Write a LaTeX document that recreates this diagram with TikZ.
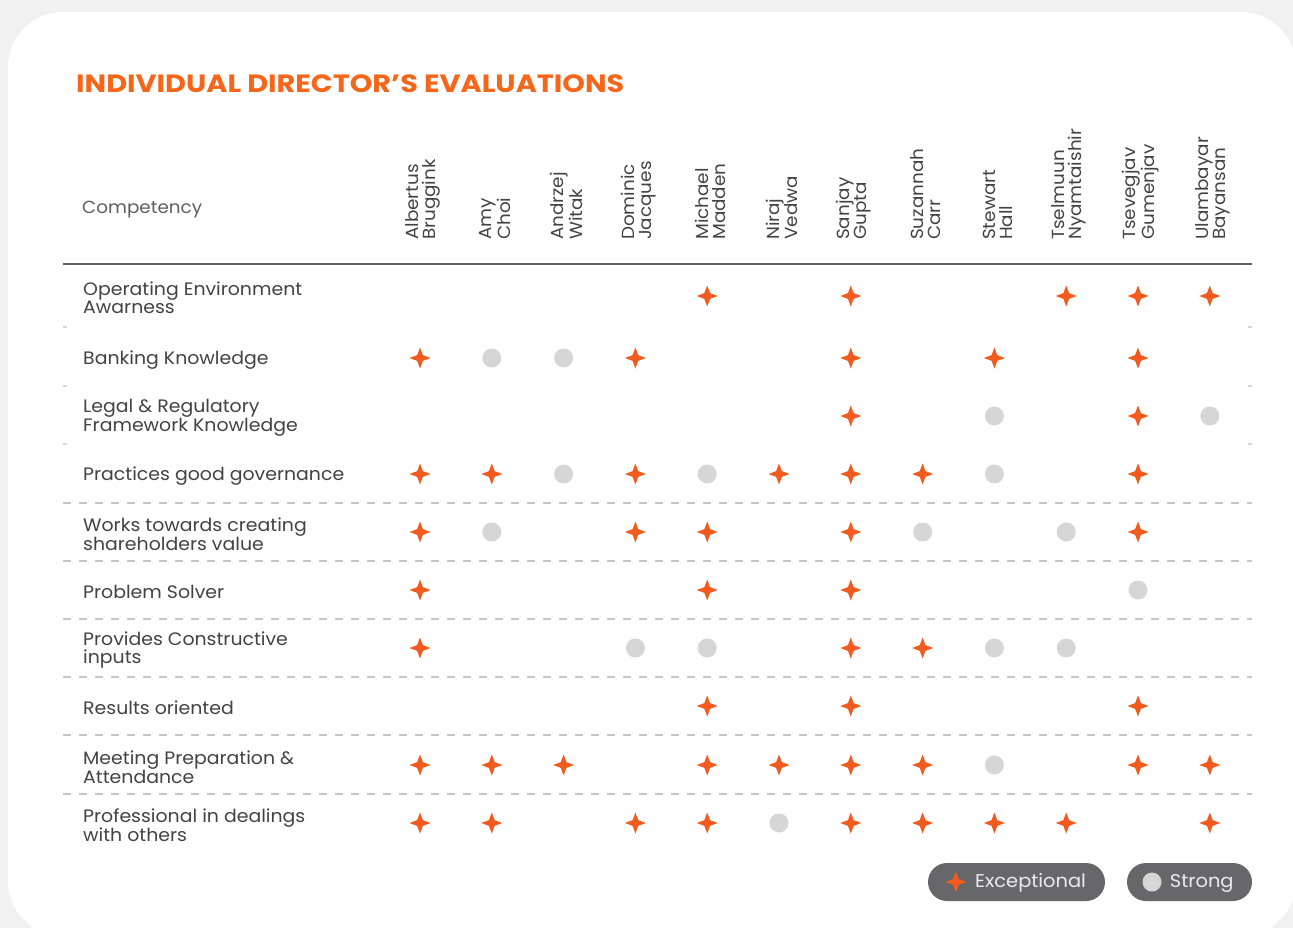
\documentclass[tikz,border=0pt]{standalone}
\usepackage{fontspec}
\setmainfont{Poppins}[FakeStretch=1.05]
\newfontfamily\titlefont{Poppins}[FakeStretch=1.15]
\usetikzlibrary{shapes.geometric,positioning}
\definecolor{evalorange}{HTML}{F35B1E}
\definecolor{titleorange}{HTML}{F5661B}
\definecolor{labelgray}{HTML}{434345}
\definecolor{dotgray}{HTML}{D6D6D6}
\definecolor{pillgray}{HTML}{67676A}
\definecolor{pagegray}{HTML}{F1F1F1}
\definecolor{sepgray}{HTML}{C6C6C6}
\tikzstyle{exmark}=[star,star points=4,star point ratio=2.6,fill=evalorange,minimum size=21pt,inner sep=0pt]
\tikzstyle{stmark}=[circle,fill=dotgray,minimum size=19pt,inner sep=0pt]
\tikzstyle{rowlabel}=[anchor=west,align=left,text=labelgray,font=\fontsize{18}{18}\selectfont,inner sep=0pt,yshift=-2pt]
\tikzstyle{namelabel}=[anchor=west,rotate=90,align=left,text=labelgray,font=\fontsize{17.5}{17}\selectfont,inner sep=0pt]
\tikzstyle{rowsep}=[draw=sepgray,line width=1.5pt,dash pattern=on 7.5pt off 8.5pt]
\tikzstyle{pill}=[rounded corners=19pt,fill=pillgray,minimum height=38pt,inner sep=0pt]
\tikzstyle{legendtext}=[text=white!92!black,font=\fontsize{18.5}{18}\selectfont,inner sep=0pt]

\begin{document}
\begin{tikzpicture}[x=1pt,y=-1pt]

  \useasboundingbox[fill=pagegray] (0,0) rectangle (1293,928);
  % card
  \fill[white,rounded corners=55pt] (8,12) rectangle (1296,936);

  \def\xa{420}   % first column
  \def\dx{71.8}  % column step
  \def\xl{63}    % table left
  \def\xr{1252}  % table right

% Title
  \node[anchor=west,text=titleorange,font=\titlefont\fontsize{25}{28}\selectfont\bfseries,inner sep=0pt] (title) at (76,84) {INDIVIDUAL DIRECTOR’S EVALUATIONS};
  \node[rowlabel,font=\fontsize{17.5}{18}\selectfont,text=labelgray!85] (competency) at (82,208) {Competency};

%header
  \foreach \c/\first/\second in {1/Albertus/Bruggink, 2/Amy/Choi, 3/Andrzej/Witak, 4/Dominic/Jacques,
      5/Michael/Madden, 6/Niraj/Vedwa, 7/Sanjay/Gupta, 8/Suzannah/Carr, 9/Stewart/Hall,
      10/Tselmuun/Nyamtaishir, 11/Tsevegjav/Gumenjav, 12/Ulambayar/Bayansan}
    \node[namelabel] (h\c) at (\xa+\c*\dx-\dx+3, 240) {\first\\\second};

  \draw[line width=1.8pt,draw=labelgray!85] (\xl,264) -- (\xr,264);

%rows
  \foreach \r/\y/\label/\marks in {
      1/296/{Operating Environment\\Awarness}/{5/exmark,7/exmark,10/exmark,11/exmark,12/exmark},
      2/358/{Banking Knowledge}/{1/exmark,2/stmark,3/stmark,4/exmark,7/exmark,9/exmark,11/exmark},
      3/416/{Legal \& Regulatory\\Framework Knowledge}/{7/exmark,9/stmark,11/exmark,12/stmark},
      4/474/{Practices good governance}/{1/exmark,2/exmark,3/stmark,4/exmark,5/stmark,6/exmark,7/exmark,8/exmark,9/stmark,11/exmark},
      5/532/{Works towards creating\\shareholders value}/{1/exmark,2/stmark,4/exmark,5/exmark,7/exmark,8/stmark,10/stmark,11/exmark},
      6/590/{Problem Solver}/{1/exmark,5/exmark,7/exmark,11/stmark},
      7/648/{Provides Constructive\\inputs}/{1/exmark,4/stmark,5/stmark,7/exmark,8/exmark,9/stmark,10/stmark},
      8/706/{Results oriented}/{5/exmark,7/exmark,11/exmark},
      9/765/{Meeting Preparation \&\\Attendance}/{1/exmark,2/exmark,3/exmark,5/exmark,6/exmark,7/exmark,8/exmark,9/stmark,11/exmark,12/exmark},
      10/823/{Professional in dealings\\with others}/{1/exmark,2/exmark,4/exmark,5/exmark,6/stmark,7/exmark,8/exmark,9/exmark,10/exmark,12/exmark}}
  {
    \node[rowlabel] (row\r) at (83,\y) {\label};
    \foreach \c/\t in \marks
      \node[\t] (m-\r-\c) at (\xa+\c*\dx-\dx, \y) {};
  }

%separators
  \foreach \y in {327,386,444}{
    \draw[draw=sepgray!70,line width=1.2pt] (\xl,\y) -- ++(4,0);
    \draw[draw=sepgray!70,line width=1.2pt] (\xr,\y) -- ++(-4,0);
  }
  \foreach \y in {503,561,619,677,735,794}
    \draw[rowsep] (\xl,\y) -- (\xr,\y);

% Legend
  \node[pill,minimum width=177pt] (exlegend) at (1016.5,882) {};
  \node[exmark,right=17pt of exlegend.west] (exkey) {};
  \node[legendtext,right=8pt of exkey,yshift=-1pt] (extext) {Exceptional};

  \node[pill,minimum width=125pt] (stlegend) at (1189.5,882) {};
  \node[stmark,right=15.5pt of stlegend.west] (stkey) {};
  \node[legendtext,right=8pt of stkey,yshift=-1pt] (sttext) {Strong};

\end{tikzpicture}
\end{document}
